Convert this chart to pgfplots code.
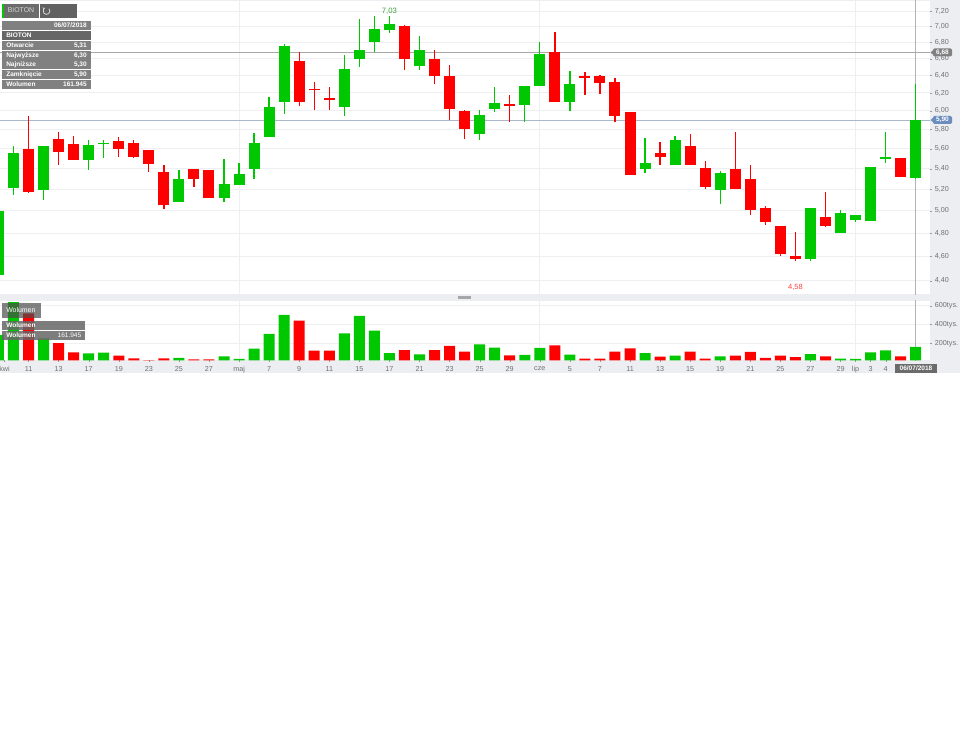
\documentclass[border=0pt]{standalone}
\usepackage{fontspec}
\setmainfont{Liberation Sans}
\usepackage{pgfplots}
\usepackage{pgfplotstable}
\pgfplotsset{compat=1.18}
\usetikzlibrary{shapes.misc,arrows.meta}

\definecolor{upgreen}{HTML}{00C800}
\definecolor{downred}{HTML}{FF0000}
\definecolor{band}{HTML}{ECEEF2}
\definecolor{gridc}{HTML}{EDEFF3}
\definecolor{ticktxt}{HTML}{707070}
\definecolor{lastline}{HTML}{A9B7C9}
\definecolor{lasttag}{HTML}{6C8EBF}
\definecolor{refline}{HTML}{A8A8A8}

% x  hi  lo  top  bot
\pgfplotstableread{
x  hi   lo   top  bot
0  5.00 4.45 5.00 4.45
1  5.63 5.15 5.56 5.21
3  5.63 5.10 5.63 5.19
6  5.69 5.39 5.64 5.49
7  5.69 5.51 5.66 5.645
12 5.39 5.08 5.30 5.08
15 5.50 5.08 5.25 5.12
16 5.46 5.24 5.35 5.24
17 5.76 5.30 5.66 5.40
18 6.15 5.72 6.04 5.72
19 6.78 5.97 6.76 6.10
23 6.64 5.95 6.48 6.04
24 7.10 6.50 6.70 6.60
25 7.14 6.68 6.97 6.80
26 7.14 6.92 7.03 6.96
28 6.88 6.46 6.70 6.51
32 6.01 5.69 5.96 5.75
33 6.27 5.99 6.09 6.02
35 6.28 5.88 6.28 6.06
36 6.80 6.28 6.66 6.28
38 6.45 6.00 6.30 6.10
43 5.71 5.36 5.46 5.40
45 5.73 5.44 5.69 5.44
48 5.38 5.06 5.36 5.19
54 5.03 4.56 5.03 4.58
56 5.01 4.80 4.98 4.80
57 4.96 4.90 4.96 4.92
58 5.42 4.91 5.42 4.91
59 5.77 5.46 5.515 5.50
61 6.30 5.30 5.90 5.31
}\upcandles
\pgfplotstableread{
x  hi   lo   top  bot
2  5.95 5.165 5.60 5.17
4  5.77 5.44 5.70 5.57
5  5.73 5.49 5.65 5.49
8  5.72 5.52 5.68 5.60
9  5.69 5.51 5.66 5.52
10 5.59 5.37 5.59 5.45
11 5.44 5.02 5.37 5.05
13 5.40 5.22 5.40 5.30
14 5.39 5.12 5.39 5.12
20 6.68 6.05 6.57 6.10
21 6.33 6.01 6.245 6.23
22 6.27 6.01 6.14 6.12
27 7.02 6.46 7.00 6.60
29 6.70 6.30 6.60 6.40
30 6.53 5.90 6.40 6.02
31 6.01 5.70 6.00 5.80
34 6.18 5.88 6.08 6.05
37 6.93 6.10 6.68 6.10
39 6.44 6.18 6.40 6.37
40 6.41 6.19 6.40 6.31
41 6.37 5.88 6.32 5.94
42 5.99 5.34 5.99 5.34
44 5.67 5.44 5.56 5.52
46 5.75 5.44 5.63 5.44
47 5.48 5.20 5.41 5.22
49 5.77 5.20 5.40 5.20
50 5.44 4.96 5.30 5.01
51 5.04 4.87 5.03 4.90
52 4.86 4.60 4.86 4.62
53 4.81 4.56 4.60 4.58
55 5.17 4.85 4.94 4.86
60 5.51 5.32 5.51 5.32
}\downcandles

% volume, thousands of shares
\pgfplotstableread{
x  v
0  289
1  640
3  253
6  93
7  100
12 43
15 60
16 32
17 143
18 300
19 503
23 307
24 492
25 335
26 96
28 82
32 189
33 153
35 75
36 150
38 78
43 96
45 68
48 60
54 85
56 36
57 32
58 103
59 125
61 161.945
}\upvol
\pgfplotstableread{
x  v
2  520
4  203
5  103
8  68
9  39
10 15
11 39
13 28
14 28
20 442
21 121
22 121
27 128
29 128
30 171
31 110
34 71
37 178
39 36
40 36
41 110
42 146
44 57
46 110
47 36
49 68
50 107
51 43
52 68
53 53
55 60
60 60
}\downvol

\pgfplotsset{
  panel/.style={
    scale only axis, anchor=south west,
    width=697.5pt,
    xmin=0.1023, xmax=61.95,
    axis line style={draw=none},
    yticklabel pos=right,
    ytick pos=right, xtick pos=bottom,
    tick align=outside,
    major tick length=1.5pt,
    tick style={ticktxt!70},
    ymajorgrids=true,
    grid style={gridc, line width=0.75pt},
    y tick label style={font=\fontsize{5.4}{6}\selectfont, text=ticktxt, inner sep=0pt, anchor=west, xshift=2pt},
    x tick label style={font=\fontsize{5.4}{6}\selectfont, text=ticktxt, inner sep=0pt, anchor=north, yshift=-3pt},
  },
  wick/.style={draw=none, mark=none, forget plot,
    error bars/y dir=plus, error bars/y explicit, error bars/error mark=none,
    error bars/error bar style={#1, line width=1pt, solid}},
  body/.style={draw=none, mark=none, forget plot,
    error bars/y dir=plus, error bars/y explicit, error bars/error mark=none,
    error bars/error bar style={#1, line width=8.25pt, solid}},
}

\begin{document}
\begin{tikzpicture}
\path[use as bounding box] (0,0) rectangle (720pt,552.75pt);

% grey bands, all in reference pixels
\begin{scope}[x=0.75pt,y=-0.75pt,yshift=552.75pt]
  \fill[band] (0,0) rectangle (960,1);
  \fill[band] (930,0) rectangle (960,373.5);
  \fill[band] (0,294.5) rectangle (960,301);
  \fill[band] (0,360.5) rectangle (960,373.5);
  \fill[black!35] (458,296) rectangle (471,299.5);
\end{scope}

% price panel, log scale
\begin{axis}[panel, at={(0pt,331.875pt)}, height=220.125pt,
    ymode=log, ymin=4.292, ymax=7.333,
    xtick={16,36,57}, xticklabels={},
    xmajorgrids=true, x tick style={draw=none},
    ytick={4.4,4.6,4.8,5.0,5.2,5.4,5.6,5.8,6.0,6.2,6.4,6.6,6.8,7.0,7.2},
    yticklabels={{4,40},{4,60},{4,80},{5,00},{5,20},{5,40},{5,60},{5,80},{6,00},{6,20},{6,40},{6,60},{6,80},{7,00},{7,20}},
]
\addplot[color=black!30, line width=1pt, forget plot] coordinates {(61,4.2) (61,7.4)};
\addplot[color=refline, line width=0.75pt, forget plot] coordinates {(0,6.68) (63,6.68)};
\addplot[color=lastline, line width=0.75pt, forget plot] coordinates {(0,5.90) (63,5.90)};

\addplot[wick=upgreen] table[x=x, y=lo, y error plus expr=\thisrow{hi}-\thisrow{lo}] {\upcandles};
\addplot[wick=downred] table[x=x, y=lo, y error plus expr=\thisrow{hi}-\thisrow{lo}] {\downcandles};
\addplot[body=upgreen] table[x=x, y=bot, y error plus expr=\thisrow{top}-\thisrow{bot}] {\upcandles};
\addplot[body=downred] table[x=x, y=bot, y error plus expr=\thisrow{top}-\thisrow{bot}] {\downcandles};

\node[font=\fontsize{5.8}{7}\selectfont, text=green!50!black!75] at (axis cs:26,7.20) {7,03};
\node[font=\fontsize{5.6}{7}\selectfont, text=red!75] at (axis cs:53,4.35) {4,58};
\end{axis}

% volume panel
\begin{axis}[panel, at={(0pt,282.375pt)}, height=44.625pt,
    ymin=16, ymax=652.4,
    ytick={200,400,600},
    yticklabels={200tys.,400tys.,600tys.},
    xtick={0.4,2,4,6,8,10,12,14,18,20,22,24,26,28,30,32,34,38,40,42,44,46,48,50,52,54,56,58,59},
    xticklabels={kwi,11,13,17,19,23,25,27,7,9,11,15,17,21,23,25,29,5,7,11,13,15,19,21,25,27,29,3,4},
    extra x ticks={16,36,57},
    extra x tick labels={maj,cze,lip},
    extra x tick style={grid=major},
]
\addplot[color=black!30, line width=1pt, forget plot] coordinates {(61,0) (61,700)};
\addplot[ybar, bar width=8.25pt, bar shift=0pt, fill=upgreen, draw=none, forget plot] table[x=x, y=v] {\upvol};
\addplot[ybar, bar width=8.25pt, bar shift=0pt, fill=downred, draw=none, forget plot] table[x=x, y=v] {\downvol};
\end{axis}

% overlays
\begin{scope}[x=0.75pt,y=-0.75pt,yshift=552.75pt,
    lab/.style={font=\fontsize{4.9}{6}\selectfont\bfseries, text=white, inner sep=0pt}]
  % top button
  \fill[black!58] (2,4) rectangle (39,18);
  \fill[black!62] (40,4) rectangle (77,18);
  \fill[upgreen] (2,4) rectangle (3.5,18);
  \node[font=\fontsize{5.2}{6}\selectfont, text=white!85!black, inner sep=0pt, anchor=west] at (7.5,10.5) {BIOTON};
  \draw[white!85!black, line width=0.6pt, -{Stealth[length=2pt]}] (49.1,8.8) arc[start angle=-40, end angle=250, radius=3.4];

  % data box
  \fill[black!50] (2,21) rectangle (91,30);
  \fill[black!60] (2,31) rectangle (91,40);
  \foreach \a/\b in {41/50,51/60,60.5/69.5,70/79,80/89} \fill[black!50] (2,\a) rectangle (91,\b);
  \node[lab, anchor=east] at (87,25.5) {06/07/2018};
  \node[lab, anchor=west] at (6,35.5) {BIOTON};
  \foreach \yy/\n/\v in {45.5/Otwarcie/{5,31},55.5/Najwyższe/{6,30},65/Najniższe/{5,30},74.5/Zamknięcie/{5,90},84.5/Wolumen/161.945} {
    \node[lab, anchor=west] at (6,\yy) {\n};
    \node[lab, anchor=east] at (87,\yy) {\v};
  }

  % volume box
  \fill[black!70, opacity=0.7] (2,303.5) rectangle (41,318);
  \fill[black!60, opacity=0.85] (2,321) rectangle (85,330);
  \fill[black!60, opacity=0.85] (2,331) rectangle (85,340);
  \node[font=\fontsize{5.2}{6}\selectfont, text=white, inner sep=0pt, anchor=west] at (6,310.5) {Wolumen};
  \node[lab, anchor=west] at (6,325.5) {Wolumen};
  \node[lab, anchor=west] at (6,335.5) {Wolumen};
  \node[lab, anchor=east, font=\fontsize{4.9}{6}\selectfont] at (81.5,335.5) {161.945};

  % price tags
  \fill[black!50, rounded corners=1pt] (933,48.5) rectangle (952,56.5);
  \fill[black!50] (930.5,52.5) -- (934,49.5) -- (934,55.5) -- cycle;
  \node[lab] at (942.5,52.5) {6,68};
  \fill[lasttag, rounded corners=1pt] (933,116) rectangle (952,124);
  \fill[lasttag] (930.5,120) -- (934,117) -- (934,123) -- cycle;
  \node[lab] at (942.5,120) {5,90};

  % date tag
  \fill[black!58] (895,364) rectangle (937,373);
  \node[lab] at (916,368.5) {06/07/2018};
\end{scope}
\end{tikzpicture}
\end{document}
